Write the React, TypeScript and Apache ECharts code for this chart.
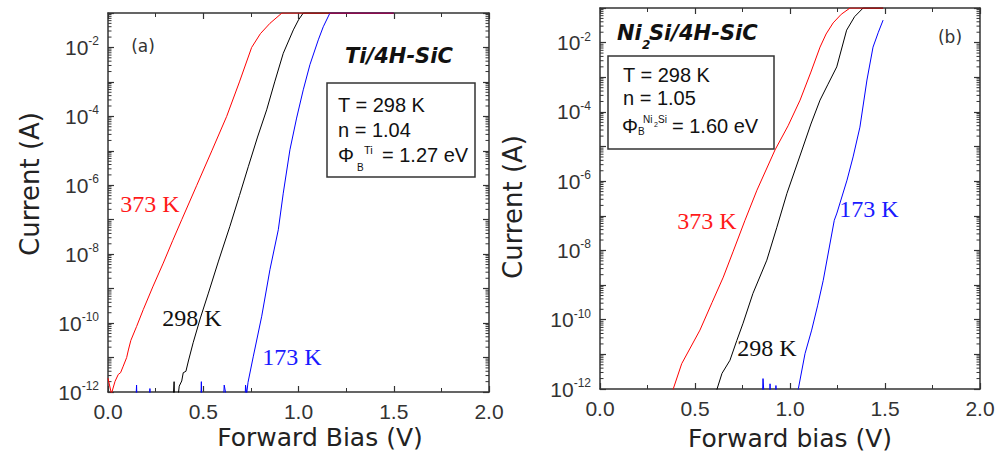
import React, { useEffect, useRef } from "react";
import * as echarts from "echarts";

// ---- axis definitions ----
const xMin = 0;
const xMax = 2;
const xInterval = 0.5;
const yDecadeMin = -12; // 10^-12 A
const yDecadeMax = -1; // 10^-1 A

// ---- data: [forward bias (V), log10(current / A)] ----
// (a) Ti/4H-SiC
const ti373: number[][] = [
  [0.0, -11.6], [0.018, -12.05], [0.037, -11.69], [0.054, -11.49], [0.066, -11.44],
  [0.08, -11.25], [0.098, -11.0], [0.107, -10.78], [0.12, -10.5], [0.15, -10.1],
  [0.185, -9.61], [0.235, -8.95], [0.29, -8.26], [0.34, -7.6], [0.387, -7.0],
  [0.466, -6.0], [0.545, -5.0], [0.623, -4.0], [0.69, -3.0], [0.754, -2.0],
  [0.8, -1.6], [0.85, -1.3], [0.913, -1.0], [1.5, -1.0],
];
const ti298: number[][] = [
  [0.335, -13], [0.347, -11.7], [0.352, -13], [0.362, -12.4], [0.374, -11.83],
  [0.387, -11.68], [0.395, -11.44], [0.409, -11.4], [0.422, -11.1], [0.447, -10.57],
  [0.485, -9.85], [0.527, -9.13], [0.58, -8.2], [0.64, -7.19], [0.69, -6.3],
  [0.737, -5.45], [0.785, -4.6], [0.833, -3.81], [0.875, -3.0], [0.92, -2.17],
  [0.973, -1.49], [1.0, -1.2], [1.025, -1.0], [1.5, -1.0],
];
const ti173: number[][] = [
  [0.14, -13], [0.15, -11.8], [0.156, -13], [0.215, -13], [0.22, -11.9], [0.225, -13],
  [0.484, -13], [0.49, -11.7], [0.496, -13], [0.6, -13], [0.61, -11.8], [0.62, -12.1],
  [0.628, -13], [0.715, -13], [0.722, -11.8], [0.728, -12.05], [0.735, -11.72],
  [0.763, -10.96], [0.807, -9.8], [0.85, -8.45], [0.894, -7.29], [0.92, -6.23],
  [0.955, -4.97], [0.99, -4.05], [1.025, -3.23], [1.06, -2.5], [1.104, -1.78],
  [1.13, -1.4], [1.165, -1.0], [1.5, -1.0],
];

// (b) Ni2Si/4H-SiC
const ni373: number[][] = [
  [0.37, -12.3], [0.386, -11.99], [0.43, -11.27], [0.526, -10.3], [0.59, -9.5],
  [0.649, -8.77], [0.7, -8.04], [0.763, -7.13], [0.826, -6.26], [0.921, -5.1],
  [0.99, -4.4], [1.053, -3.66], [1.11, -2.85], [1.158, -2.13], [1.19, -1.75],
  [1.227, -1.43], [1.27, -1.18], [1.316, -1.0], [1.49, -1.0],
];
const ni298: number[][] = [
  [0.6, -12.3], [0.616, -12.0], [0.642, -11.55], [0.684, -11.17], [0.72, -10.6],
  [0.753, -10.1], [0.805, -9.24], [0.878, -8.28], [0.931, -7.33], [0.984, -6.35],
  [1.063, -5.1], [1.11, -4.35], [1.158, -3.66], [1.2, -3.2], [1.246, -2.7],
  [1.298, -1.64], [1.34, -1.25], [1.385, -1.0], [1.49, -1.0],
];
const ni173: number[][] = [
  [0.85, -13], [0.858, -11.7], [0.862, -12.05], [0.866, -13], [0.89, -13],
  [0.895, -11.85], [0.9, -13], [0.921, -13], [0.926, -11.9], [0.931, -13],
  [1.03, -12.3], [1.044, -11.99], [1.079, -10.98], [1.114, -10.3], [1.145, -9.6],
  [1.175, -8.86], [1.233, -7.13], [1.247, -6.92], [1.3, -5.97], [1.332, -5.3],
  [1.368, -4.44], [1.405, -3.08], [1.437, -2.13], [1.465, -1.7], [1.49, -1.35],
];

const AXIS = "#333";
const SANS = "'Liberation Sans', Arial, sans-serif";
const WIDE = "'DejaVu Sans', sans-serif";
const SERIF = "'Liberation Serif', 'Times New Roman', serif";

function xAxesFor(gridIndex: number) {
  const base: any = {
    type: "value",
    gridIndex,
    min: xMin,
    max: xMax,
    interval: xInterval,
    splitLine: { show: false },
    axisLine: { onZero: false, lineStyle: { color: AXIS, width: 1.5 } },
    axisTick: { inside: true, length: 6, lineStyle: { color: AXIS, width: 1.2 } },
    minorTick: { show: true, splitNumber: 2, length: 4, lineStyle: { color: AXIS, width: 1 } },
  };
  return [
    {
      ...base,
      position: "bottom",
      axisLabel: {
        margin: 9,
        color: "#333",
        fontFamily: SANS,
        fontSize: 21,
        formatter: (v: number) => v.toFixed(1),
      },
    },
    { ...base, position: "top", axisLabel: { show: false } },
  ];
}

function yAxesFor(gridIndex: number) {
  const base: any = {
    type: "value",
    gridIndex,
    min: yDecadeMin,
    max: yDecadeMax,
    interval: 1,
    splitLine: { show: false },
    axisLine: { onZero: false, lineStyle: { color: AXIS, width: 1.5 } },
    axisTick: { inside: true, length: 6, lineStyle: { color: AXIS, width: 1.2 } },
  };
  return [
    {
      ...base,
      position: "left",
      axisLabel: {
        margin: 9,
        fontSize: 21,
        fontFamily: SANS,
        color: "#333",
        formatter: (v: number) => (Math.round(v) % 2 === 0 ? `{b|10}{s|${Math.round(v)}}` : ""),
        rich: {
          b: { fontSize: 21, fontFamily: SANS, color: "#333", lineHeight: 24 },
          s: { fontSize: 12, fontFamily: SANS, color: "#333", verticalAlign: "top", lineHeight: 14 },
        },
      },
    },
    { ...base, position: "right", axisLabel: { show: false } },
  ];
}

// log-spaced minor tick positions (2..9 × 10^k), drawn through the axis scale
const minorTickData: number[][] = [];
for (let k = yDecadeMin; k < yDecadeMax; k++) {
  for (let m = 2; m <= 9; m++) minorTickData.push([xMin, k + Math.log10(m)]);
}

function minorTicks(xi: number, yi: number) {
  return {
    type: "custom",
    xAxisIndex: xi,
    yAxisIndex: yi,
    silent: true,
    clip: false,
    z: 1,
    encode: { x: 0, y: 1 },
    data: minorTickData,
    renderItem: (_p: any, api: any) => {
      const a = api.coord([xMin, api.value(1)]);
      const b = api.coord([xMax, api.value(1)]);
      return {
        type: "group",
        children: [
          { type: "line", shape: { x1: a[0], y1: a[1], x2: a[0] + 3.5, y2: a[1] }, style: { stroke: AXIS, lineWidth: 1 } },
          { type: "line", shape: { x1: b[0] - 3.5, y1: b[1], x2: b[0], y2: b[1] }, style: { stroke: AXIS, lineWidth: 1 } },
        ],
      };
    },
  };
}

function curve(data: number[][], color: string, xi: number, yi: number) {
  return {
    type: "line",
    data,
    xAxisIndex: xi,
    yAxisIndex: yi,
    showSymbol: false,
    symbol: "none",
    clip: true,
    silent: true,
    z: 3,
    lineStyle: { color, width: 1 },
    itemStyle: { color },
  };
}

function txt(
  text: string,
  x: number,
  y: number,
  o: { size: number; family: string; color?: string; weight?: string; style?: string; align?: string; rotation?: number }
) {
  const align = o.align || "left";
  return {
    type: "text",
    x,
    y,
    rotation: o.rotation || 0,
    z: 100,
    silent: true,
    style: {
      text,
      fill: o.color || "#222",
      fontSize: o.size,
      fontFamily: o.family,
      fontWeight: o.weight || "normal",
      fontStyle: o.style || "normal",
      textAlign: align,
      align,
      textVerticalAlign: "middle",
      verticalAlign: "middle",
    },
  };
}

export default function App() {
  const ref = useRef<HTMLDivElement>(null);

  useEffect(() => {
    document.body.style.margin = "0";
    if (!ref.current) return;
    const chart = echarts.init(ref.current, undefined, { renderer: "svg" });

    const graphic: any[] = [
      // axis titles
      txt("Current (A)", 30, 184, { size: 26, family: WIDE, align: "center", rotation: Math.PI / 2 }),
      txt("Current (A)", 513, 207, { size: 26, family: WIDE, align: "center", rotation: Math.PI / 2 }),
      txt("Forward Bias (V)", 320, 437, { size: 25, family: WIDE, align: "center" }),
      txt("Forward bias (V)", 790, 438, { size: 25, family: WIDE, align: "center" }),
      // panel tags
      txt("(a)", 143, 46, { size: 17, family: WIDE, align: "center", color: "#333" }),
      txt("(b)", 950, 37, { size: 17, family: WIDE, align: "center", color: "#333" }),
      // titles
      txt("Ti/4H-SiC", 345, 56, { size: 21, family: WIDE, weight: "bold", style: "italic", color: "#111" }),
      txt("Ni", 617, 33, { size: 21, family: WIDE, weight: "bold", style: "italic", color: "#111" }),
      txt("2", 642, 45, { size: 12, family: WIDE, weight: "bold", style: "italic", color: "#111" }),
      txt("Si/4H-SiC", 649, 33, { size: 21, family: WIDE, weight: "bold", style: "italic", color: "#111" }),
      // box (a)
      { type: "rect", z: 90, silent: true, shape: { x: 327, y: 83, width: 148, height: 94 }, style: { fill: "#fff", stroke: "#333", lineWidth: 1.5 } },
      txt("T = 298 K", 338, 104.5, { size: 20, family: SANS, color: "#111" }),
      txt("n = 1.04", 338, 129.5, { size: 20, family: SANS, color: "#111" }),
      txt("\u03A6", 338, 155, { size: 20, family: SANS, color: "#111" }),
      txt("B", 357, 167, { size: 10, family: SANS, color: "#111" }),
      txt("Ti", 364, 150, { size: 11, family: SANS, color: "#111" }),
      txt("= 1.27 eV", 382, 155, { size: 20, family: SANS, color: "#111" }),
      // box (b)
      { type: "rect", z: 90, silent: true, shape: { x: 608, y: 56, width: 166, height: 93 }, style: { fill: "#fff", stroke: "#333", lineWidth: 1.5 } },
      txt("T = 298 K", 623, 75, { size: 20, family: SANS, color: "#111" }),
      txt("n = 1.05", 623, 98, { size: 20, family: SANS, color: "#111" }),
      txt("\u03A6", 622, 126, { size: 20, family: SANS, color: "#111" }),
      txt("B", 638, 131, { size: 10, family: SANS, color: "#111" }),
      txt("Ni", 643, 119, { size: 10, family: SANS, color: "#111" }),
      txt("2", 654, 124, { size: 7, family: SANS, color: "#111" }),
      txt("Si", 658, 119, { size: 10, family: SANS, color: "#111" }),
      txt("= 1.60 eV", 672, 126, { size: 20, family: SANS, color: "#111" }),
      // curve labels
      txt("373 K", 150, 204, { size: 24, family: SERIF, align: "center", color: "#ff1a1a" }),
      txt("298 K", 192, 318, { size: 24, family: SERIF, align: "center", color: "#111" }),
      txt("173 K", 292, 357, { size: 24, family: SERIF, align: "center", color: "#1a1aff" }),
      txt("373 K", 707, 221, { size: 24, family: SERIF, align: "center", color: "#ff1a1a" }),
      txt("173 K", 869, 209, { size: 24, family: SERIF, align: "center", color: "#1a1aff" }),
      txt("298 K", 767, 348, { size: 24, family: SERIF, align: "center", color: "#111" }),
    ];

    chart.setOption({
      animation: false,
      backgroundColor: "#fff",
      grid: [
        { left: 108, top: 13, width: 381, height: 379, containLabel: false },
        { left: 600, top: 8, width: 380, height: 381, containLabel: false },
      ],
      xAxis: [...xAxesFor(0), ...xAxesFor(1)],
      yAxis: [...yAxesFor(0), ...yAxesFor(1)],
      series: [
        minorTicks(0, 0),
        minorTicks(2, 2),
        curve(ti298, "#000000", 0, 0),
        curve(ti173, "#0000ff", 0, 0),
        curve(ti373, "#ff0000", 0, 0),
        curve(ni298, "#000000", 2, 2),
        curve(ni173, "#0000ff", 2, 2),
        curve(ni373, "#ff0000", 2, 2),
      ],
      graphic,
    });

    return () => chart.dispose();
  }, []);

  return <div ref={ref} style={{ width: 1007, height: 457 }} />;
}
